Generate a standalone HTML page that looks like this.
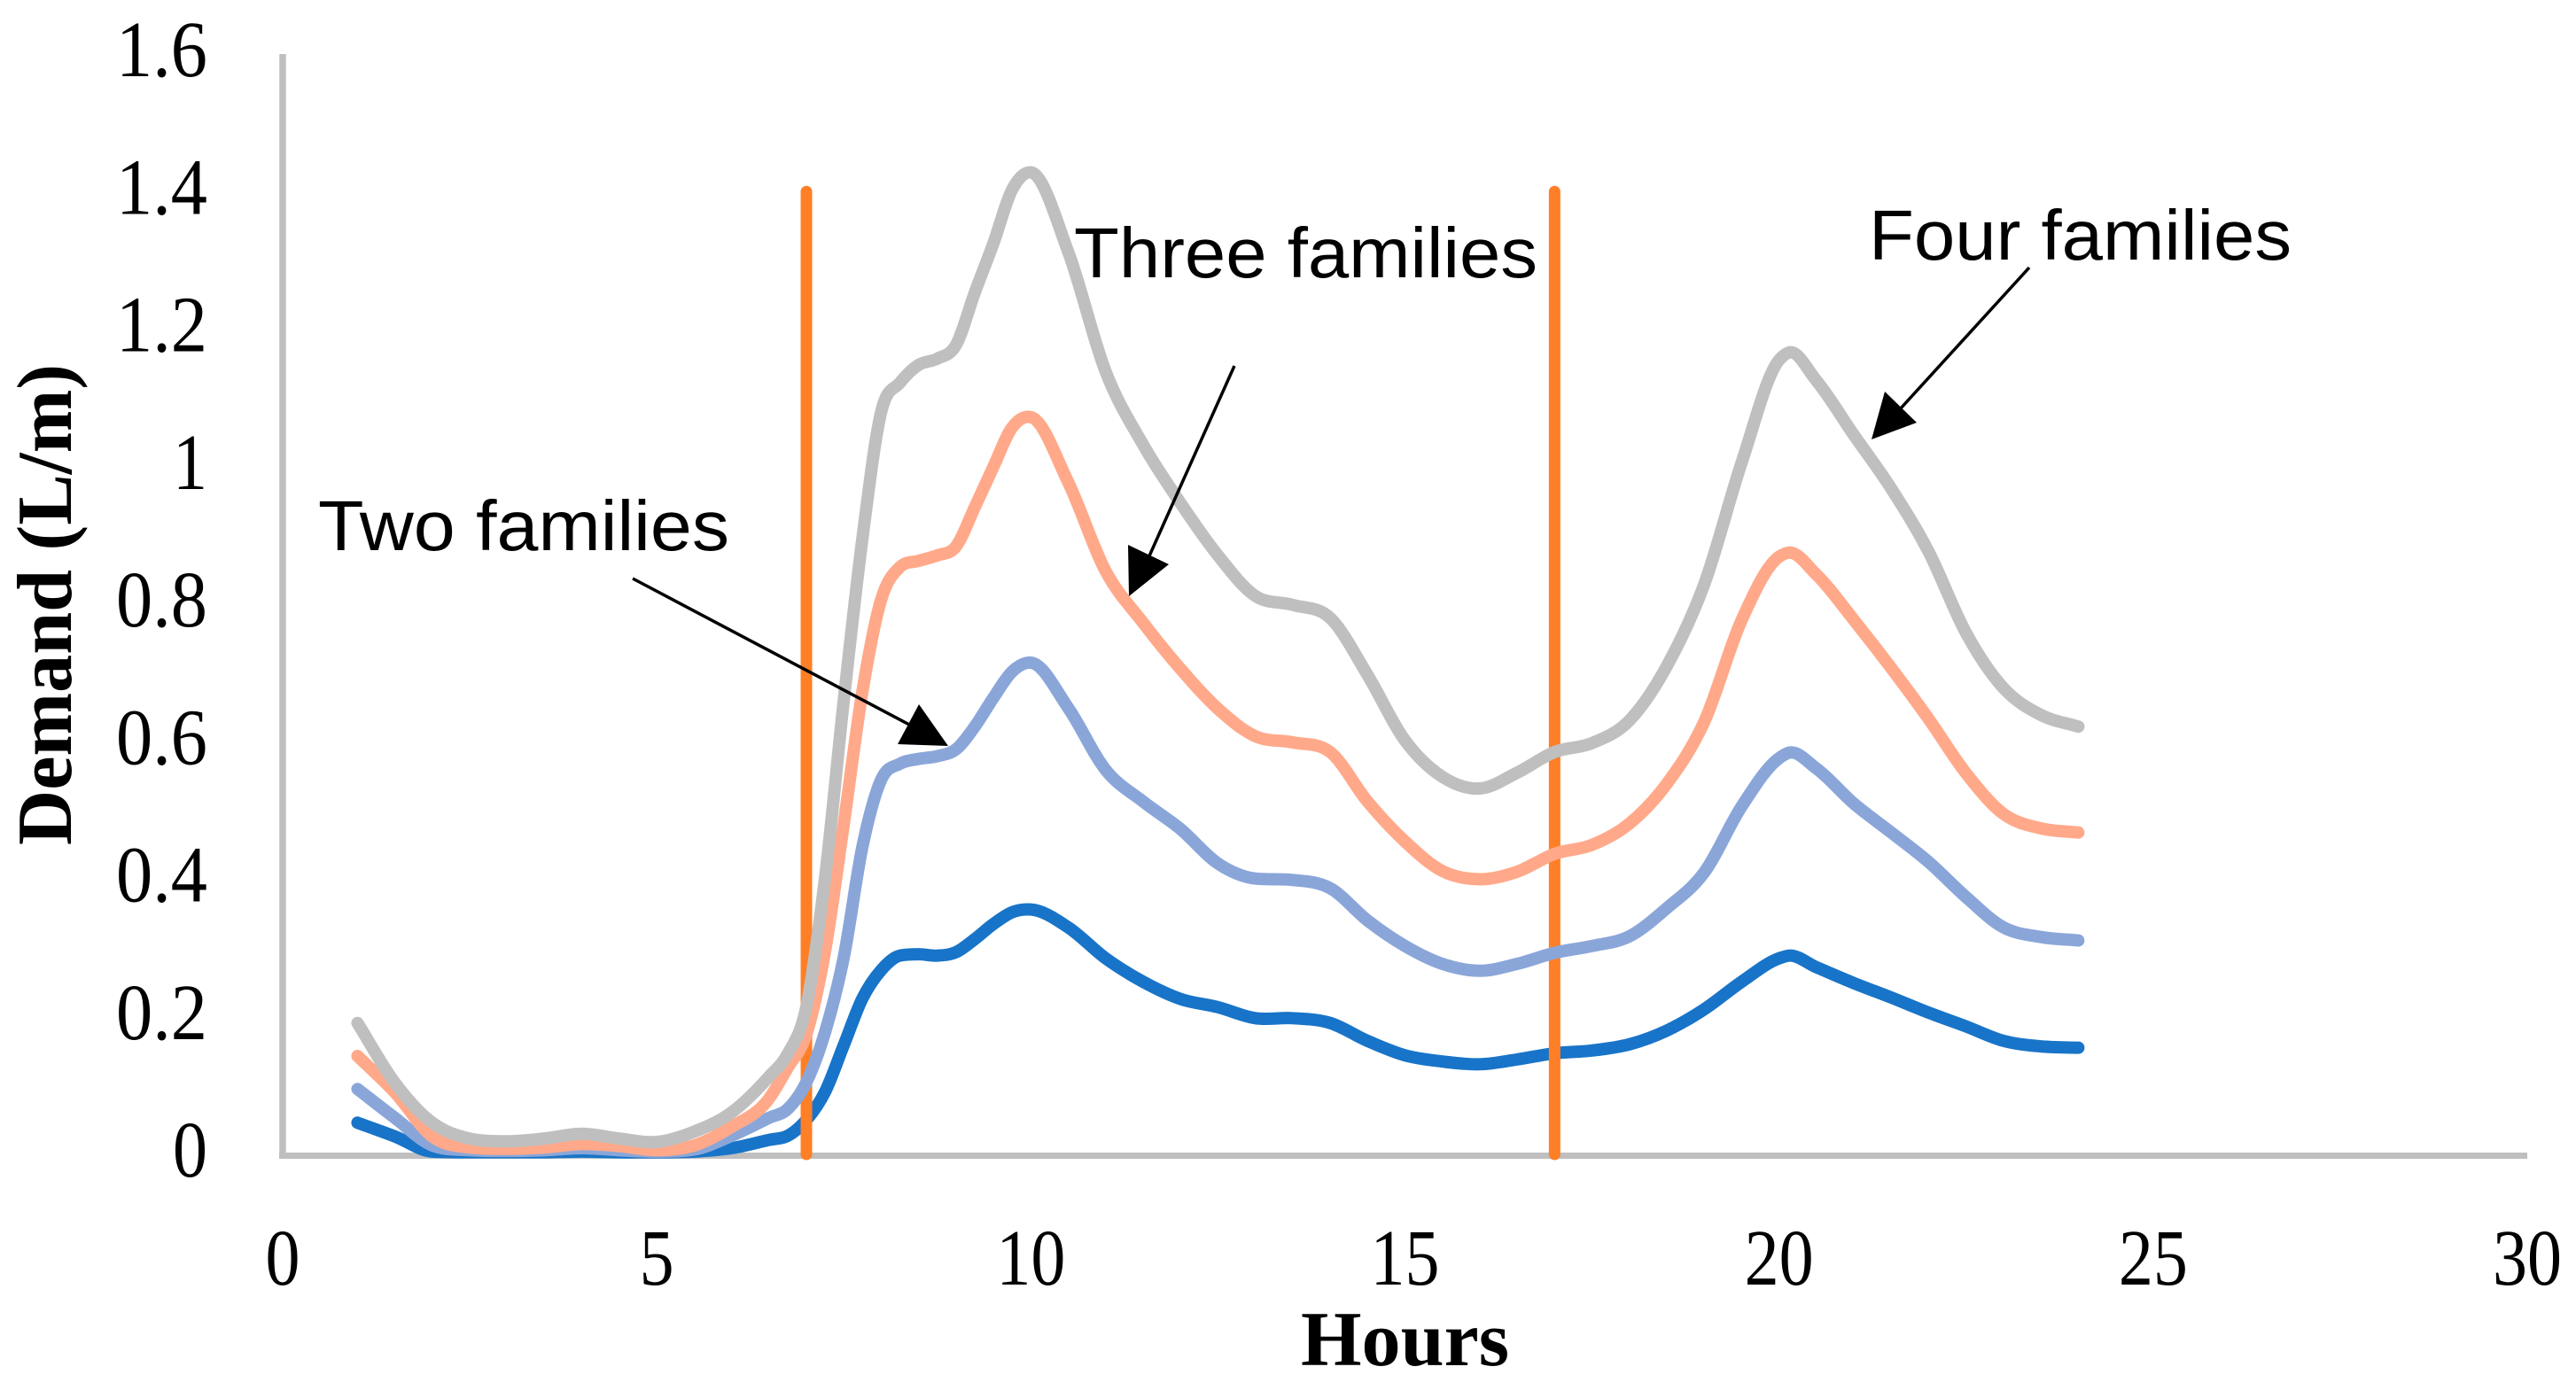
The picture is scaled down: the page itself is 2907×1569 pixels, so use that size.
<!DOCTYPE html>
<html lang="en">
<head>
<meta charset="utf-8">
<title>Demand by hour</title>
<style>
html,body{margin:0;padding:0;background:#fff;}
svg{display:block;}
.tick{font-family:"Liberation Serif",serif;font-size:90px;fill:#000;}
.title{font-family:"Liberation Serif",serif;font-size:88px;font-weight:bold;fill:#000;}
.note{font-family:"Liberation Sans",sans-serif;font-size:80px;fill:#000;}
</style>
</head>
<body>
<svg id="chart" xmlns="http://www.w3.org/2000/svg" width="2907" height="1569" viewBox="0 0 2907 1569">
  <rect x="0" y="0" width="2907" height="1569" fill="#ffffff"/>
  <g id="axes"></g>
  <g id="marks"></g>
  <text class="title" x="1468" y="1541" textLength="235" lengthAdjust="spacingAndGlyphs">Hours</text>
  <text class="title" transform="translate(80,954) rotate(-90)" x="0" y="0" textLength="543" lengthAdjust="spacingAndGlyphs">Demand (L/m)</text>
  <g>
    <text class="note" x="359" y="621" textLength="464" lengthAdjust="spacingAndGlyphs">Two families</text>
    <line x1="714" y1="653" x2="1030" y2="820" stroke="#000" stroke-width="3.5"/>
    <polygon points="1037,795 1013,840 1070,842" fill="#000"/>
  </g>
  <g>
    <text class="note" x="1212" y="313" textLength="523" lengthAdjust="spacingAndGlyphs">Three families</text>
    <line x1="1393" y1="413" x2="1295" y2="632" stroke="#000" stroke-width="3.5"/>
    <polygon points="1273,615 1319,637 1274,673" fill="#000"/>
  </g>
  <g>
    <text class="note" x="2109" y="293" textLength="477" lengthAdjust="spacingAndGlyphs">Four families</text>
    <line x1="2290" y1="302" x2="2144" y2="462" stroke="#000" stroke-width="3.5"/>
    <polygon points="2127,442 2163,477 2112,496" fill="#000"/>
  </g>
</svg>
<script>
const hours = [1,1.5,2,2.5,3,3.5,4,4.5,5,5.5,6,6.5,6.75,7,7.25,7.5,7.75,8,8.25,8.5,8.75,9,9.25,9.5,9.75,10,10.5,11,11.5,12,12.5,13,13.5,14,14.5,15,15.5,16,16.5,17,17.5,18,18.5,19,19.5,20,20.13,20.5,21,21.5,22,22.5,23,23.5,24];
const oneFamily = [.046,.026,.004,.003,.003,.003,.004,.003,.003,.004,.009,.021,.027,.050,.091,.159,.227,.268,.289,.291,.289,.294,.313,.335,.352,.356,.330,.285,.251,.226,.214,.198,.198,.191,.165,.144,.135,.131,.138,.147,.151,.160,.180,.211,.251,.285,.289,.272,.249,.228,.206,.186,.165,.157,.155];
const twoFamilies = [.095,.053,.013,.006,.005,.006,.009,.006,.004,.007,.027,.053,.066,.105,.178,.287,.448,.545,.568,.575,.579,.589,.622,.664,.702,.715,.649,.559,.513,.473,.423,.401,.399,.387,.340,.303,.277,.267,.277,.293,.303,.317,.358,.410,.506,.576,.584,.561,.510,.468,.425,.374,.330,.316,.311];
const threeFamilies = [.143,.090,.026,.010,.008,.010,.015,.012,.006,.013,.040,.081,.126,.175,.296,.481,.674,.807,.854,.863,.871,.884,.941,1.0,1.057,1.072,.977,.848,.773,.706,.648,.608,.599,.585,.513,.455,.412,.400,.411,.437,.450,.481,.539,.629,.777,.869,.875,.843,.777,.707,.633,.554,.495,.474,.468];
const fourFamilies = [.191,.104,.046,.023,.019,.023,.030,.023,.018,.033,.061,.113,.146,.215,.403,.661,.897,1.08,1.122,1.148,1.157,1.177,1.253,1.325,1.403,1.428,1.312,1.138,1.032,.947,.871,.812,.799,.780,.697,.602,.549,.532,.555,.585,.598,.631,.710,.829,1.006,1.155,1.166,1.125,1.046,.968,.876,.758,.678,.639,.622];
const markerHours = [7,17];
const markerTop = 1.4;
const yTicks = ["0","0.2","0.4","0.6","0.8","1","1.2","1.4","1.6"];
const xTicks = ["0","5","10","15","20","25","30"];

const SVGNS = 'http://www.w3.org/2000/svg';
const xScale = h => 319 + (2852 - 319) * h / 30;
const yScale = v => 1303 - (1303 - 61) * v / 1.6;

function smoothPath(xs, ys) {
  const n = xs.length, d = [], m = [];
  for (let i = 0; i < n - 1; i++) d.push((ys[i + 1] - ys[i]) / (xs[i + 1] - xs[i]));
  m[0] = d[0];
  m[n - 1] = d[n - 2];
  for (let i = 1; i < n - 1; i++) {
    const a = xs[i] - xs[i - 1], b = xs[i + 1] - xs[i];
    let t = (b * d[i - 1] + a * d[i]) / (a + b);
    if (d[i - 1] * d[i] > 0) {
      const lim = 3 * Math.min(Math.abs(d[i - 1]), Math.abs(d[i]));
      if (Math.abs(t) > lim) t = Math.sign(t) * lim;
    }
    m[i] = t;
  }
  let p = 'M' + xs[0].toFixed(2) + ' ' + ys[0].toFixed(2);
  for (let i = 0; i < n - 1; i++) {
    const h = (xs[i + 1] - xs[i]) / 3;
    p += ' C' + (xs[i] + h).toFixed(2) + ' ' + (ys[i] + m[i] * h).toFixed(2) + ' ' +
         (xs[i + 1] - h).toFixed(2) + ' ' + (ys[i + 1] - m[i + 1] * h).toFixed(2) + ' ' +
         xs[i + 1].toFixed(2) + ' ' + ys[i + 1].toFixed(2);
  }
  return p;
}

const axes = document.getElementById('axes');
const marks = document.getElementById('marks');

const yAxis = document.createElementNS(SVGNS, 'line');


yAxis.setAttribute('x1', 319); yAxis.setAttribute('x2', 319);
yAxis.setAttribute('y1', yScale(1.6)); yAxis.setAttribute('y2', 1308);
yAxis.setAttribute('stroke', '#bfbfbf'); yAxis.setAttribute('stroke-width', 7.5);
axes.appendChild(yAxis);

const xAxis = document.createElementNS(SVGNS, 'line');


xAxis.setAttribute('x1', 315); xAxis.setAttribute('x2', xScale(30));
xAxis.setAttribute('y1', 1304.5); xAxis.setAttribute('y2', 1304.5);
xAxis.setAttribute('stroke', '#bfbfbf'); xAxis.setAttribute('stroke-width', 7);
axes.appendChild(xAxis);

const labelWidth = s => s.replace('.', '').length * 39 + (s.includes('.') ? 25 : 0);

yTicks.forEach(function (label) {
  const t = document.createElementNS(SVGNS, 'text');
  
  
  t.setAttribute('class', 'tick');
  t.setAttribute('x', 234 - labelWidth(label));
  t.setAttribute('y', yScale(parseFloat(label)) + 25);
  t.setAttribute('textLength', labelWidth(label));
  t.setAttribute('lengthAdjust', 'spacingAndGlyphs');
  t.textContent = label;
  axes.appendChild(t);
});

xTicks.forEach(function (label) {
  const t = document.createElementNS(SVGNS, 'text');
  
  
  t.setAttribute('class', 'tick');
  t.setAttribute('x', xScale(parseFloat(label)) - labelWidth(label) / 2);
  t.setAttribute('y', 1450);
  t.setAttribute('textLength', labelWidth(label));
  t.setAttribute('lengthAdjust', 'spacingAndGlyphs');
  t.textContent = label;
  axes.appendChild(t);
});

function drawSeries(values, color, name) {
  const path = document.createElementNS(SVGNS, 'path');
  
  
  path.setAttribute('d', smoothPath(hours.map(xScale), values.map(yScale)));
  path.setAttribute('fill', 'none');
  path.setAttribute('stroke', color);
  path.setAttribute('stroke-width', 14);
  path.setAttribute('stroke-linecap', 'round');
  path.setAttribute('stroke-linejoin', 'round');
  marks.appendChild(path);
}

function drawMarkers() {
  markerHours.forEach(function (h) {
    const l = document.createElementNS(SVGNS, 'line');
    
    
    l.setAttribute('x1', xScale(h)); l.setAttribute('x2', xScale(h));
    l.setAttribute('y1', yScale(markerTop)); l.setAttribute('y2', yScale(0));
    l.setAttribute('stroke', '#ff7f27');
    l.setAttribute('stroke-width', 13);
    l.setAttribute('stroke-linecap', 'round');
    marks.appendChild(l);
  });
}

drawSeries(oneFamily, '#1874c8', 'series-one-family');
drawMarkers();
drawSeries(twoFamilies, '#8aa6d9', 'series-two-families');
drawSeries(threeFamilies, '#ffa98a', 'series-three-families');
drawSeries(fourFamilies, '#bfbfbf', 'series-four-families');
</script>
</body>
</html>
